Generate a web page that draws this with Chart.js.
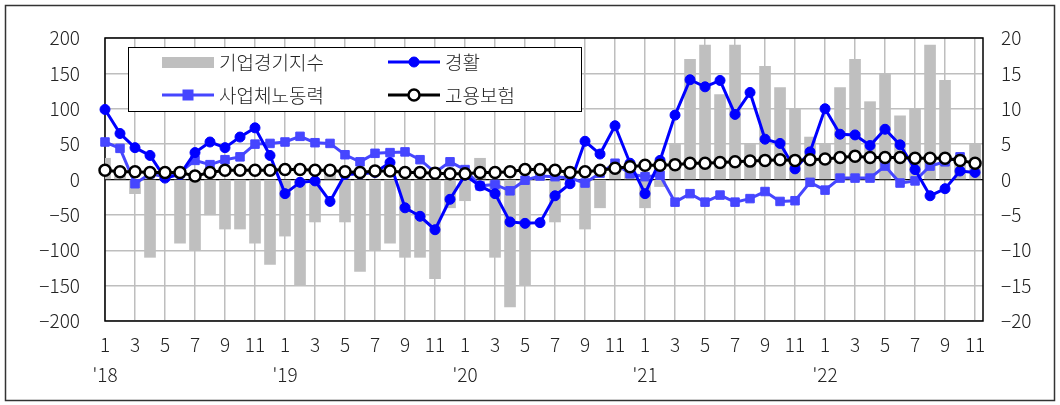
<!DOCTYPE html>
<html>
<head>
<meta charset="utf-8">
<script src="https://cdn.jsdelivr.net/npm/chart.js@4.4.1/dist/chart.umd.min.js"></script>
<style>
  html, body { margin: 0; padding: 0; background: #fff; }
  #wrap { position: relative; width: 1060px; height: 405px; }
  canvas { display: block; }
</style>
</head>
<body>
<div id="wrap"><canvas id="chart" width="1060" height="405"></canvas></div>
<script>
// Monthly periods, Jan 2018 – Nov 2022
const periods = [
  "2018-01","2018-02","2018-03","2018-04","2018-05","2018-06","2018-07","2018-08","2018-09","2018-10","2018-11","2018-12",
  "2019-01","2019-02","2019-03","2019-04","2019-05","2019-06","2019-07","2019-08","2019-09","2019-10","2019-11","2019-12",
  "2020-01","2020-02","2020-03","2020-04","2020-05","2020-06","2020-07","2020-08","2020-09","2020-10","2020-11","2020-12",
  "2021-01","2021-02","2021-03","2021-04","2021-05","2021-06","2021-07","2021-08","2021-09","2021-10","2021-11","2021-12",
  "2022-01","2022-02","2022-03","2022-04","2022-05","2022-06","2022-07","2022-08","2022-09","2022-10","2022-11"
];

// 기업경기지수 (left axis)
const bsi = [
   30,  10, -20,-110,  10, -90,-100, -50, -70, -70, -90,-120,
  -80,-150, -60,  10, -60,-130,-100, -90,-110,-110,-140, -40,
  -30,  30,-110,-180,-150,   0, -60,   0, -70, -40,  20,  10,
  -40, -10,  50, 170, 190, 120, 190,  50, 160, 130, 100,  60,
   50, 130, 170, 110, 150,  90, 100, 190, 140,  30,  50
];

// 경활 (right axis)
const lfs = [
   9.9, 6.5, 4.5, 3.4, 0.2, 0.7, 3.8, 5.3, 4.5, 6.0, 7.3, 3.4,
  -2.0,-0.4,-0.2,-3.1, 0.7, 0.8, 1.0, 2.4,-4.0,-5.2,-7.1,-2.8,
   0.6,-0.9,-2.0,-6.0,-6.2,-6.1,-2.3,-0.6, 5.4, 3.6, 7.6, 2.3,
  -2.0, 2.7, 9.1,14.1,13.1,14.0, 9.2,12.3, 5.7, 5.1, 1.5, 3.9,
  10.0, 6.4, 6.3, 4.8, 7.1, 4.9, 1.4,-2.3,-1.3, 1.2, 1.0
];

// 사업체노동력 (right axis)
const estab = [
   5.3, 4.4,-0.6, 0.8, 0.4, 1.0, 2.7, 2.1, 2.8, 3.2, 5.0, 5.1,
   5.3, 6.1, 5.2, 5.1, 3.5, 2.5, 3.7, 3.8, 3.9, 2.8, 1.0, 2.5,
   1.4,-0.9,-0.7,-1.6,-0.1, 0.5, 0.4, 0.2,-0.5, 0.9, 2.3, 0.8,
   0.4, 0.6,-3.2,-2.0,-3.2,-2.2,-3.2,-2.7,-1.7,-3.1,-3.0,-0.4,
  -1.5, 0.2, 0.2, 0.2, 1.9,-0.5,-0.2, 1.9, 2.5, 3.2, null
];

// 고용보험 (right axis)
const ei = [
   1.3, 1.1, 1.1, 1.0, 1.0, 1.0, 0.5, 1.0, 1.3, 1.3, 1.3, 1.3,
   1.4, 1.4, 1.3, 1.3, 1.1, 1.0, 1.2, 1.2, 1.0, 1.0, 0.9, 0.8,
   0.8, 1.0, 1.0, 1.1, 1.4, 1.4, 1.3, 1.0, 1.1, 1.3, 1.6, 1.8,
   2.0, 2.0, 2.1, 2.3, 2.3, 2.4, 2.5, 2.6, 2.7, 2.8, 2.7, 2.8,
   2.9, 3.1, 3.3, 3.1, 3.1, 3.1, 3.0, 3.0, 3.0, 2.7, 2.3
];

const leftTicks = [-200, -150, -100, -50, 0, 50, 100, 150, 200];
const rightTicks = [-20, -15, -10, -5, 0, 5, 10, 15, 20];

const FONT = '"Noto Sans CJK KR", "Noto Sans", sans-serif';
const WEIGHT = 300;
const TXT = '#222';
const GRID = '#BEBEBE';
const BAR = '#BFBFBF';
const BLUE = '#0000FF';
const LIGHT = '#4646FF';

const pts = arr => arr.map((v, i) => ({ x: i, y: v }));
const minus = v => String(v).replace('-', '\u2212');

// frame around the whole figure
const framePlugin = {
  id: 'frame',
  beforeDraw(chart) {
    const c = chart.ctx;
    c.save();
    c.fillStyle = '#fff';
    c.fillRect(0, 0, chart.width, chart.height);
    c.strokeStyle = '#333';
    c.lineWidth = 1.5;
    c.strokeRect(5.5, 5.5, 1049, 395);
    c.restore();
  }
};

// plot-area border, drawn under the series
const plotBorder = {
  id: 'plotBorder',
  beforeDatasetsDraw(chart) {
    const a = chart.chartArea, c = chart.ctx;
    c.save();
    c.strokeStyle = '#000';
    c.lineWidth = 1.5;
    c.strokeRect(a.left, a.top, a.right - a.left, a.bottom - a.top);
    c.restore();
  }
};

// two-column legend box inside the plot
const legendBox = {
  id: 'legendBox',
  afterDraw(chart) {
    const c = chart.ctx;
    const ds = chart.data.datasets;
    c.save();
    c.fillStyle = '#fff';
    c.fillRect(128, 47, 453, 64);
    c.strokeStyle = '#000';
    c.lineWidth = 1;
    c.strokeRect(128.5, 47.5, 453, 64);
    const cells = [
      { d: ds[0], x: 162, y: 62 },
      { d: ds[1], x: 388, y: 62 },
      { d: ds[2], x: 162, y: 95 },
      { d: ds[3], x: 388, y: 95 }
    ];
    c.font = WEIGHT + ' 19px ' + FONT;
    c.textBaseline = 'middle';
    c.textAlign = 'left';
    for (const cell of cells) {
      const d = cell.d, x = cell.x, y = cell.y, w = 52;
      if (d.type === 'bar') {
        c.fillStyle = d.backgroundColor;
        c.fillRect(x, y - 5, w, 11);
      } else {
        c.strokeStyle = d.borderColor;
        c.lineWidth = 3;
        c.beginPath(); c.moveTo(x, y); c.lineTo(x + w, y); c.stroke();
        const mx = x + w / 2;
        c.fillStyle = d.pointBackgroundColor;
        c.strokeStyle = d.pointBorderColor;
        c.lineWidth = d.pointBorderWidth;
        if (d.pointStyle === 'rect') {
          c.fillRect(mx - 5.5, y - 5.5, 11, 11);
        } else {
          c.beginPath(); c.arc(mx, y, d.pointRadius, 0, Math.PI * 2);
          c.fill(); c.stroke();
        }
      }
      c.fillStyle = TXT;
      c.fillText(d.label, x + w + 5, y + 1);
    }
    c.restore();
  }
};

new Chart(document.getElementById('chart'), {
  data: {
    datasets: [
      {
        type: 'bar', label: '기업경기지수', data: pts(bsi), yAxisID: 'y',
        backgroundColor: BAR, borderWidth: 0, barThickness: 11, order: 4
      },
      {
        type: 'line', label: '경활', data: pts(lfs), yAxisID: 'y1',
        borderColor: BLUE, borderWidth: 3, tension: 0, clip: false,
        pointStyle: 'circle', pointRadius: 5, pointBackgroundColor: BLUE,
        pointBorderColor: BLUE, pointBorderWidth: 1, order: 2
      },
      {
        type: 'line', label: '사업체노동력', data: pts(estab), yAxisID: 'y1',
        borderColor: LIGHT, borderWidth: 3, tension: 0, clip: false,
        pointStyle: 'rect', pointRadius: 6, pointBackgroundColor: LIGHT,
        pointBorderColor: LIGHT, pointBorderWidth: 1, order: 3
      },
      {
        type: 'line', label: '고용보험', data: pts(ei), yAxisID: 'y1',
        borderColor: '#000', borderWidth: 3, tension: 0, clip: false,
        pointStyle: 'circle', pointRadius: 5.5, pointBackgroundColor: '#fff',
        pointBorderColor: '#000', pointBorderWidth: 2.5, order: 1
      }
    ]
  },
  options: {
    responsive: false,
    animation: false,
    layout: { padding: { top: 38, left: 0, right: 0, bottom: 0 } },
    plugins: { legend: { display: false }, tooltip: { enabled: false } },
    scales: {
      x: {
        type: 'linear', min: 0, max: 58.53, offset: false,
        afterBuildTicks: s => {
          s.ticks = [];
          for (let i = 0; i < periods.length; i += 2) s.ticks.push({ value: i });
        },
        afterFit: s => { s.height = 84; },
        grid: { color: GRID, lineWidth: 1.5, drawTicks: false, offset: false },
        border: { display: false },
        ticks: {
          autoSkip: false, maxRotation: 0, minRotation: 0, padding: 9, color: TXT,
          font: { family: FONT, size: 19, weight: WEIGHT, lineHeight: 1.58 },
          callback: v => {
            const p = periods[v];
            if (!p) return '';
            const m = String(parseInt(p.slice(5), 10));
            return m === '1' ? [m, "'" + p.slice(2, 4)] : m;
          }
        }
      },
      y: {
        position: 'left', min: -200, max: 200,
        afterBuildTicks: s => { s.ticks = leftTicks.map(v => ({ value: v })); },
        afterFit: s => { s.width = 105; },
        grid: {
          color: ctx => (ctx.tick && ctx.tick.value === 0 ? '#000' : GRID),
          lineWidth: ctx => (ctx.tick && ctx.tick.value === 0 ? 1.2 : 1.5),
          drawTicks: false
        },
        border: { display: false },
        ticks: { padding: 25, color: TXT, font: { family: FONT, size: 19, weight: WEIGHT }, callback: minus }
      },
      y1: {
        position: 'right', min: -20, max: 20,
        afterBuildTicks: s => { s.ticks = rightTicks.map(v => ({ value: v })); },
        afterFit: s => { s.width = 77; },
        grid: { display: false, drawTicks: false },
        border: { display: false },
        ticks: { padding: 18, color: TXT, font: { family: FONT, size: 19, weight: WEIGHT }, callback: minus }
      }
    }
  },
  plugins: [framePlugin, plotBorder, legendBox]
});
</script>
</body>
</html>
